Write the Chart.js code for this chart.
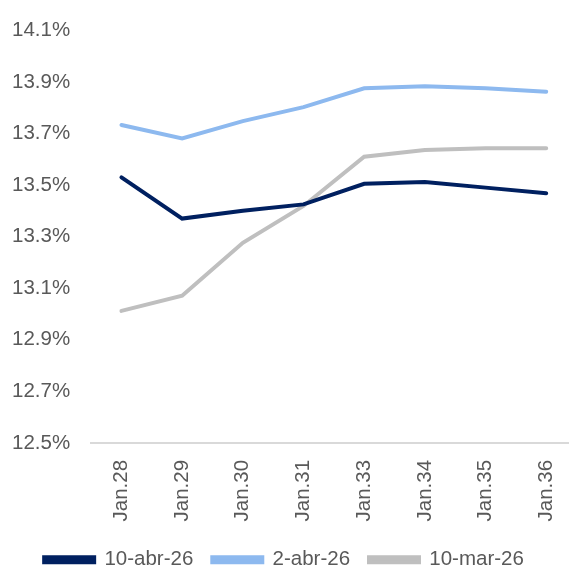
<!DOCTYPE html>
<html>
<head>
<meta charset="utf-8">
<script src="https://cdn.jsdelivr.net/npm/chart.js@4/dist/chart.umd.min.js"></script>
<style>
    html, body { margin: 0; padding: 0; background: #fff; overflow: hidden; }
    #wrap { width: 580px; height: 568px; margin-top: -3px; }
</style>
</head>
<body>
<div id="wrap"><canvas id="rateChart"></canvas></div>
<script>
// categories and series
const categories = ["Jan.28", "Jan.29", "Jan.30", "Jan.31", "Jan.33", "Jan.34", "Jan.35", "Jan.36"];
const abr10 = [13.53, 13.37, 13.40, 13.425, 13.505, 13.512, 13.49, 13.468];
const abr2 = [13.733, 13.681, 13.748, 13.802, 13.875, 13.883, 13.875, 13.862];
const mar10 = [13.012, 13.071, 13.276, 13.419, 13.61, 13.636, 13.643, 13.643];
const yTicks = [12.5, 12.7, 12.9, 13.1, 13.3, 13.5, 13.7, 13.9, 14.1];

const font = { family: "'Liberation Sans', Arial, sans-serif", size: 20.5 };
const textColor = "#595959";

function series(label, data, color) {
    return {
        label,
        data,
        borderColor: color,
        backgroundColor: color,
        borderWidth: 4,
        pointRadius: 0,
        tension: 0,
        borderCapStyle: "round",
    };
}

new Chart(document.getElementById("rateChart"), {
    type: "line",
    data: {
        labels: categories,
        datasets: [
            series("10-abr-26", abr10, "#002060"),
            series("2-abr-26", abr2, "#8DB9EF"),
            series("10-mar-26", mar10, "#BFBFBF"),
        ],
    },
    options: {
        responsive: true,
        maintainAspectRatio: false,
        animation: false,
        layout: { padding: { left: -9, right: 3, top: 0, bottom: -15 } },
        plugins: {
            tooltip: { enabled: false },
            legend: {
                position: "bottom",
                labels: {
                    font,
                    color: textColor,
                    boxWidth: 50,
                    boxHeight: 5,
                    padding: 19,
                },
            },
        },
        scales: {
            x: {
                offset: true,
                grid: { display: false },
                border: { display: true, color: "#D9D9D9", width: 2 },
                ticks: {
                    font,
                    color: textColor,
                    minRotation: 90,
                    maxRotation: 90,
                    padding: 9,
                },
            },
            y: {
                min: 12.5,
                max: 14.1,
                afterBuildTicks: (axis) => {
                    axis.ticks = yTicks.map((v) => ({ value: v }));
                },
                grid: { display: false, drawTicks: false },
                border: { display: false },
                ticks: {
                    font,
                    color: textColor,
                    padding: 21,
                    callback: (v) => v.toFixed(1) + "%",
                },
            },
        },
    },
});
</script>
</body>
</html>
